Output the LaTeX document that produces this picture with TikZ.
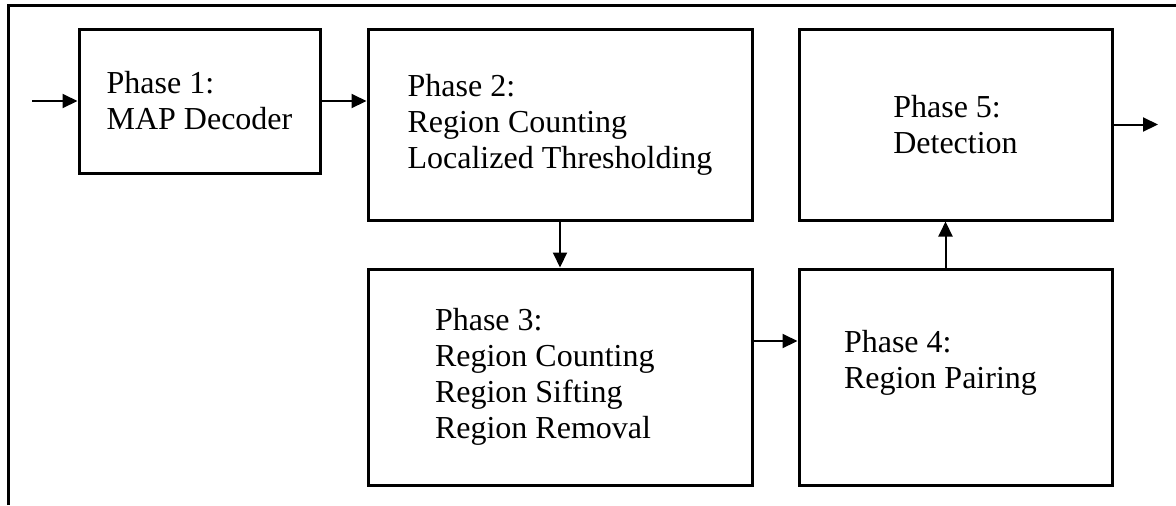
\documentclass[tikz,border=0pt]{standalone}
\usepackage{fontspec}
\setmainfont{Liberation Serif}
\usepackage{tikz}
\usetikzlibrary{calc,arrows.meta}
\tikzset{phase box/.style={draw=black, line width=1.5pt, rectangle, align=left,
           inner sep=0pt, font=\fontsize{16}{18}\selectfont},
     flow/.style={line width=1pt, -{Triangle[length=7.5pt,width=7pt]}},
     frame line/.style={line width=1.5pt}
     }
\def\PhaseBox#1#2#3#4{%
 \node[phase box, #2] (#1) at (#3) {#4};
}

\begin{document}
\begin{tikzpicture}[x=0.5pt, y=-0.5pt]
\useasboundingbox (0,0) rectangle (1176,505);
% frame
\draw[frame line] (8,505) -- (8,5) -- (1176,5);
% phases
\PhaseBox{phaseA}{minimum width=120.5pt, minimum height=72pt}{199.5,101}{Phase 1:\\MAP Decoder}
\PhaseBox{phaseB}{minimum width=192pt, minimum height=95.5pt}{560,124.5}{Phase 2:\\Region Counting\\Localized Thresholding}
\PhaseBox{phaseC}{minimum width=192pt, minimum height=108pt, text width=125pt, align=flush left}{560,377}{Phase 3:\\Region Counting\\Region Sifting\\Region Removal}
\PhaseBox{phaseD}{minimum width=156.5pt, minimum height=108pt, text width=111.5pt, align=flush left, text depth=35.5pt}{955.5,377}{Phase 4:\\Region Pairing}
\PhaseBox{phaseE}{minimum width=156.5pt, minimum height=95.5pt}{955.5,124.5}{Phase 5:\\Detection}
\coordinate (input) at (32,101);
\coordinate (output) at (1158,124.5);
% arrows
\draw[flow] (input) -- (phaseA.west);
\draw[flow] (phaseA.east) -- (phaseA.east -| phaseB.west);
\draw[flow] (phaseB.south) -- (phaseC.north);
\draw[flow] ([yshift=18pt]phaseC.east) -- ([yshift=18pt]phaseC.east -| phaseD.west);
\draw[flow] ([xshift=-5pt]phaseD.north) -- ([xshift=-5pt]phaseD.north |- phaseE.south);
\draw[flow] (phaseE.east) -- (output);
\end{tikzpicture}
\end{document}
